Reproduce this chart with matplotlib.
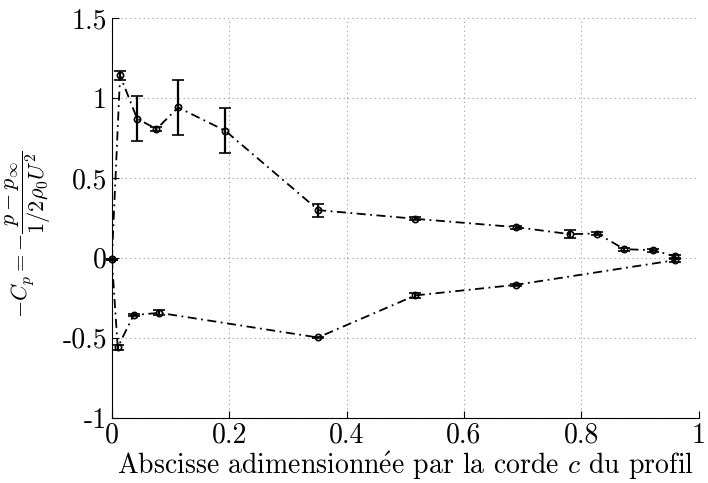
import matplotlib
matplotlib.use('Agg')
import matplotlib.pyplot as plt

plt.rcParams['font.family'] = ['cmr10', 'DejaVu Serif']
plt.rcParams['mathtext.fontset'] = 'cm'
plt.rcParams['axes.unicode_minus'] = False
plt.rcParams['axes.formatter.use_mathtext'] = True

# extrados (upper branch)
x_up = [0.0, 0.014, 0.043, 0.076, 0.113, 0.193, 0.352, 0.517, 0.688, 0.780, 0.827, 0.873, 0.922, 0.959]
cp_up = [-0.01, 1.14, 0.87, 0.805, 0.94, 0.795, 0.298, 0.244, 0.192, 0.148, 0.152, 0.054, 0.048, 0.01]
err_up = [0.005, 0.03, 0.14, 0.015, 0.17, 0.14, 0.04, 0.01, 0.01, 0.025, 0.01, 0.01, 0.01, 0.01]

# intrados (lower branch)
x_lo = [0.0, 0.010, 0.037, 0.081, 0.351, 0.517, 0.688, 0.959]
cp_lo = [-0.01, -0.56, -0.358, -0.344, -0.498, -0.235, -0.169, -0.015]
err_lo = [0.005, 0.015, 0.008, 0.015, 0.006, 0.015, 0.008, 0.01]

xticks = [0, 0.2, 0.4, 0.6, 0.8, 1]
xticklabels = ['0', '0.2', '0.4', '0.6', '0.8', '1']
yticks = [-1, -0.5, 0, 0.5, 1, 1.5]
yticklabels = ['-1', '-0.5', '0', '0.5', '1', '1.5']

fig = plt.figure(figsize=(7.08, 4.83), dpi=100)
ax = fig.add_axes([0.158, 0.135, 0.829, 0.828])

for xs, ys, es in [(x_up, cp_up, err_up), (x_lo, cp_lo, err_lo)]:
    ax.errorbar(xs, ys, yerr=es, fmt='o', color='k', mfc='none', ms=4.5, mew=1.2,
                ecolor='k', elinewidth=1.6, capsize=4, capthick=1.6, zorder=3,
                clip_on=False)
    ax.plot(xs, ys, color='k', ls=(0, (5, 2.5, 1, 2.5)), lw=1.3, zorder=2)

ax.set_xlim(0, 1)
ax.set_ylim(-1, 1.5)
ax.set_xticks(xticks)
ax.set_xticklabels(xticklabels)
ax.set_yticks(yticks)
ax.set_yticklabels(yticklabels)
ax.tick_params(direction='in', labelsize=20, length=5, top=False, right=False)
ax.spines['top'].set_visible(False)
ax.spines['right'].set_visible(False)
ax.grid(True, ls=(0, (1, 3)), color='0.6', lw=0.8)

ax.set_xlabel(r'Abscisse adimensionn$\mathrm{\acute{e}}$e par la corde $c$ du profil',
              fontsize=20, labelpad=0)
ax.set_ylabel(r'$-C_p = -\dfrac{p-p_\infty}{1/2\rho_0 U^2}$', fontsize=16)
ax.yaxis.set_label_coords(-0.1, 0.46)

fig.savefig('out.png', dpi=100)
